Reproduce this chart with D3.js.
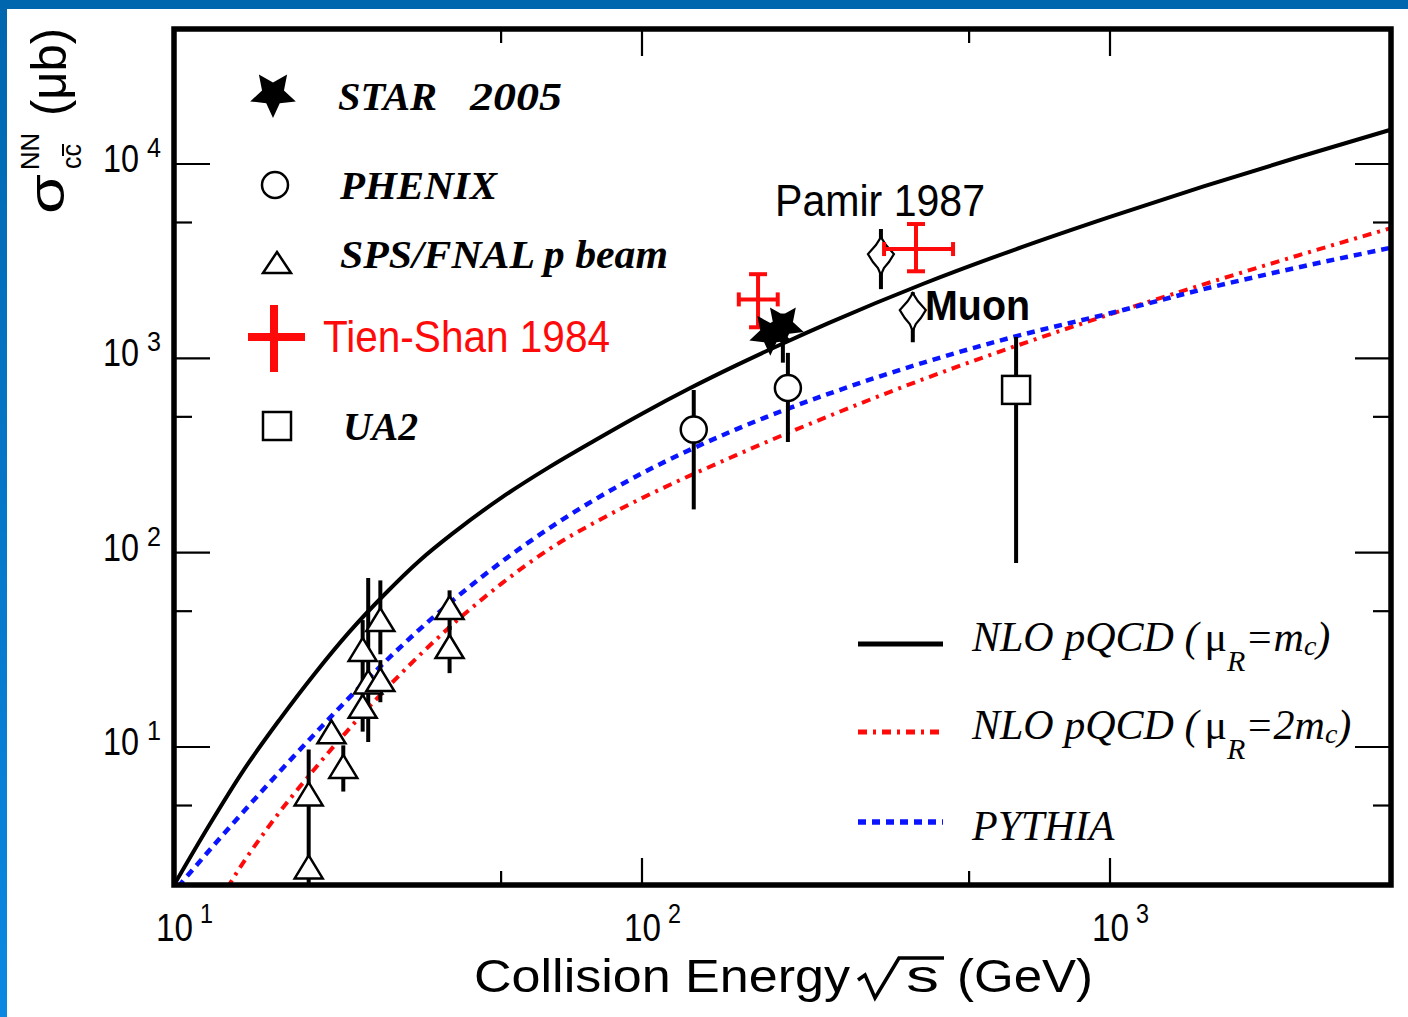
<!DOCTYPE html>
<html>
<head>
<meta charset="utf-8">
<script src="https://cdn.jsdelivr.net/npm/d3@7"></script>
<style>
  html, body { margin: 0; padding: 0; background: #fff; }
  svg { display: block; }
</style>
</head>
<body>
<svg id="chart" width="1408" height="1017"></svg>
<script>
// Charm pair production cross section per NN collision vs collision energy

// ---- axis ticks ----
const xMajorTicks = [10, 100, 1000];
const xMinorTicks = [50, 500];
const xTickExponents = ["1", "2", "3"];
const yMajorTicks = [10, 100, 1000, 10000];
const yMinorTicks = [5, 50, 500, 5000];
const yTickExponents = ["1", "2", "3", "4"];

// ---- theory curves: [sqrt(s) in GeV, sigma in microbarn] ----
const nloMcCurve = [
  [10, 1.95], [11.9, 3.97], [14.1, 7.63], [16.8, 13.8], [20.0, 23.9], [23.7, 39.1],
  [28.2, 61.1], [33.5, 91.2], [39.8, 128], [50.1, 192], [63.1, 274], [79.4, 379],
  [100, 519], [125.9, 697], [158.5, 917], [199.5, 1189], [251, 1522], [398, 2413],
  [631, 3652], [1000, 5346], [1585, 7664], [2512, 10800], [3985, 15020]
];
const nlo2McCurve = [
  [13.0, 1.88], [13.2, 2.0], [15.85, 3.83], [19.95, 7.69], [25.1, 14.5], [31.6, 25.9],
  [39.8, 43.7], [50.1, 69.3], [63.1, 103.6], [79.4, 143.4], [100, 190.8],
  [158.5, 316.6], [251, 505], [398, 779], [631, 1160], [1000, 1685],
  [1585, 2402], [2512, 3373], [3985, 4683]
];
const pythiaCurve = [
  [10.2, 1.91], [12.6, 3.44], [15.85, 6.39], [19.95, 11.63], [25.1, 20.7], [31.6, 35.5],
  [39.8, 57.9], [50.1, 89.7], [63.1, 132.7], [79.4, 188], [100, 256], [158.5, 430],
  [251, 658], [398, 948], [631, 1300], [1000, 1705], [1585, 2270], [2512, 2930],
  [3985, 3707]
];

// ---- measurements: s = sqrt(s) GeV, v = sigma, lo/hi = vertical error range ----
const starPoints = [
  { s: 188, v: 1340 },
  { s: 200, v: 1480, lo: 950, hi: 1700 }
];
const phenixPoints = [
  { s: 129, v: 430, lo: 167, hi: 687 },
  { s: 205, v: 704, lo: 371, hi: 1067 }
];
const spsFnalPoints = [
  { s: 19.4, v: 5.7, lo: 1.5, hi: 9.7 },
  { s: 19.4, v: 2.4 },
  { s: 21.7, v: 11.9, lo: 10.5, hi: 13.5 },
  { s: 23.0, v: 7.9, lo: 5.9, hi: 10.2 },
  { s: 25.3, v: 31.6, lo: 20, hi: 45 },
  { s: 25.3, v: 16.1, lo: 12, hi: 20 },
  { s: 26.0, v: 21.5, lo: 10.6, hi: 74 },
  { s: 27.6, v: 45, lo: 30, hi: 72 },
  { s: 27.6, v: 22.1, lo: 17, hi: 28 },
  { s: 38.8, v: 51.9, lo: 40, hi: 64 },
  { s: 38.8, v: 32.7, lo: 24, hi: 42 }
];
const ua2Points = [
  { s: 630, v: 688, lo: 88.5, hi: 1288 }
];
const tienShanPoints = [
  { s: 177, v: 2010, lo: 1445, hi: 2710, sLo: 161, sHi: 195 },
  { s: 385, v: 3650, lo: 2805, hi: 4910, sLo: 329, sHi: 462 }
];
const pamirPoints = [
  { s: 324, v: 3360, lo: 2270, hi: 4630 },
  { s: 379, v: 1730, lo: 1210, hi: 2190 }
];

// ---- legend texts ----
const markerLegendLabels = ["STAR", "PHENIX", "SPS/FNAL p beam", "Tien-Shan 1984", "UA2"];
const curveLegendLabels = ["NLO pQCD (", "PYTHIA"];

// ---------------------------------------------------------------
const svg = d3.select("#chart");
const frame = { left: 174, right: 1391, top: 29, bottom: 885 };
const sans = "'Liberation Sans', Arial, Helvetica, sans-serif";
const serif = "'Liberation Serif', 'Times New Roman', Times, serif";

const x = d3.scaleLog().domain([10, 3985]).range([frame.left, frame.right]);
const y = d3.scaleLog().domain([1.95, 49500]).range([frame.bottom, frame.top]);

// page background and blue slide border
svg.append("rect").attr("width", 1408).attr("height", 1017).attr("fill", "#fff");
const defs = svg.append("defs");
const grad = defs.append("linearGradient").attr("id", "edgeGrad")
  .attr("x1", 0).attr("y1", 0).attr("x2", 0).attr("y2", 1);
grad.append("stop").attr("offset", "0%").attr("stop-color", "#0066ae");
grad.append("stop").attr("offset", "100%").attr("stop-color", "#0a88e2");
svg.append("rect").attr("x", 0).attr("y", 0).attr("width", 7).attr("height", 1017).attr("fill", "url(#edgeGrad)");
svg.append("rect").attr("x", 0).attr("y", 0).attr("width", 1408).attr("height", 9).attr("fill", "#0066ae");

defs.append("clipPath").attr("id", "plotClip").append("rect")
  .attr("x", frame.left).attr("y", frame.top)
  .attr("width", frame.right - frame.left).attr("height", frame.bottom - frame.top);

// ---- ticks (inside, on all four sides) ----
const ticks = svg.append("g").attr("stroke", "#000").attr("stroke-width", 2.2);
const xTicks = xMajorTicks.filter(d => d > 10).map(d => ({ v: d, len: 27 }))
  .concat(xMinorTicks.map(d => ({ v: d, len: 14 })));
xTicks.forEach(t => {
  ticks.append("line").attr("x1", x(t.v)).attr("x2", x(t.v))
    .attr("y1", frame.bottom).attr("y2", frame.bottom - t.len);
  ticks.append("line").attr("x1", x(t.v)).attr("x2", x(t.v))
    .attr("y1", frame.top).attr("y2", frame.top + t.len);
});
const yTicks = yMajorTicks.map(d => ({ v: d, len: 36 }))
  .concat(yMinorTicks.map(d => ({ v: d, len: 18 })));
yTicks.forEach(t => {
  ticks.append("line").attr("y1", y(t.v)).attr("y2", y(t.v))
    .attr("x1", frame.left).attr("x2", frame.left + t.len);
  ticks.append("line").attr("y1", y(t.v)).attr("y2", y(t.v))
    .attr("x1", frame.right).attr("x2", frame.right - t.len);
});

// ---- tick labels: "10" with a raised exponent ----
const labels = svg.append("g").attr("font-family", sans).attr("fill", "#000");
xMajorTicks.forEach((d, i) => {
  const t = labels.append("text").attr("x", x(d) - 18).attr("y", 941);
  t.append("tspan").attr("font-size", 38).attr("textLength", 37)
    .attr("lengthAdjust", "spacingAndGlyphs").text("10");
  t.append("tspan").attr("x", x(d) + 26).attr("dy", -18).attr("font-size", 27)
    .attr("textLength", 13).attr("lengthAdjust", "spacingAndGlyphs").text(xTickExponents[i]);
});
yMajorTicks.forEach((d, i) => {
  const t = labels.append("text").attr("x", 103).attr("y", y(d) + 8);
  t.append("tspan").attr("font-size", 38).attr("textLength", 36)
    .attr("lengthAdjust", "spacingAndGlyphs").text("10");
  t.append("tspan").attr("x", 147).attr("dy", -15).attr("font-size", 27)
    .attr("textLength", 14).attr("lengthAdjust", "spacingAndGlyphs").text(yTickExponents[i]);
});

// ---- axis titles ----
const xTitle = labels.append("text").attr("y", 992).attr("font-size", 47);
xTitle.append("tspan").attr("x", 474).attr("textLength", 376)
  .attr("lengthAdjust", "spacingAndGlyphs").text("Collision Energy");
xTitle.append("tspan").attr("x", 906).attr("textLength", 33)
  .attr("lengthAdjust", "spacingAndGlyphs").text("s");
xTitle.append("tspan").attr("x", 957).attr("textLength", 136)
  .attr("lengthAdjust", "spacingAndGlyphs").text("(GeV)");
svg.append("path").attr("d", "M858,980 L865,975 L875,998 L899,958 L944,958")
  .attr("fill", "none").attr("stroke", "#000").attr("stroke-width", 3.5).attr("stroke-linejoin", "miter");

const yTitle = svg.append("g").attr("transform", "translate(64,0) rotate(-90)")
  .attr("font-family", sans).attr("fill", "#000");
const yt = yTitle.append("text").attr("y", 0);
yt.append("tspan").attr("x", -214).attr("font-size", 50)
  .attr("textLength", 40).attr("lengthAdjust", "spacingAndGlyphs").text("σ");
yt.append("tspan").attr("x", -170).attr("dy", -25).attr("font-size", 26)
  .attr("textLength", 37).attr("lengthAdjust", "spacingAndGlyphs").text("NN");
yt.append("tspan").attr("x", -169).attr("dy", 42).attr("font-size", 27)
  .attr("textLength", 25).attr("lengthAdjust", "spacingAndGlyphs").text("cc");
yt.append("tspan").attr("x", -116).attr("dy", -15).attr("font-size", 50)
  .attr("textLength", 88).attr("lengthAdjust", "spacingAndGlyphs").text("(μb)");
yTitle.append("line").attr("x1", -156).attr("x2", -144).attr("y1", -1).attr("y2", -1)
  .attr("stroke", "#000").attr("stroke-width", 2);

// ---- theory curves ----
const plot = svg.append("g").attr("clip-path", "url(#plotClip)");
const line = d3.line().x(d => x(d[0])).y(d => y(d[1])).curve(d3.curveMonotoneX);
const curveStyles = [
  { data: nloMcCurve, color: "#000", width: 4, dash: null },
  { data: nlo2McCurve, color: "#ff0a0a", width: 4, dash: "9,6,3,6" },
  { data: pythiaCurve, color: "#0a14ff", width: 4.5, dash: "8,6" }
];
curveStyles.forEach(c => {
  plot.append("path").attr("d", line(c.data)).attr("fill", "none")
    .attr("stroke", c.color).attr("stroke-width", c.width)
    .attr("stroke-dasharray", c.dash);
});

// ---- marker shapes ----
function starPath(R) {
  const r = R * 0.48, pts = [];
  for (let k = 0; k < 10; k++) {
    const a = Math.PI + k * Math.PI / 5;   // first point straight down
    const rad = k % 2 === 0 ? R : r;
    pts.push([rad * Math.sin(a), -rad * Math.cos(a)]);
  }
  return "M" + pts.map(p => p.join(",")).join("L") + "Z";
}
const triPath = "M0,-12 L14,11 L-14,11 Z";
const diamondPath = "M0,-19 L5,-11 L13,-2 L8,6 L3,12 L0,19 L-3,12 L-8,6 L-13,-2 L-5,-11 Z";

function errorBars(g, pts, color, w) {
  pts.filter(p => p.lo !== undefined).forEach(p => {
    g.append("line").attr("x1", x(p.s)).attr("x2", x(p.s))
      .attr("y1", y(p.lo)).attr("y2", y(p.hi))
      .attr("stroke", color).attr("stroke-width", w);
  });
}

const marks = svg.append("g").attr("clip-path", "url(#plotClip)");

// SPS/FNAL p beam
errorBars(marks, spsFnalPoints, "#000", 4);
marks.selectAll(".sps").data(spsFnalPoints).join("path")
  .attr("d", triPath).attr("transform", d => `translate(${x(d.s)},${y(d.v)})`)
  .attr("fill", "#fff").attr("stroke", "#000").attr("stroke-width", 2.5);

// PHENIX
errorBars(marks, phenixPoints, "#000", 4);
marks.selectAll(".phx").data(phenixPoints).join("circle")
  .attr("cx", d => x(d.s)).attr("cy", d => y(d.v)).attr("r", 13)
  .attr("fill", "#fff").attr("stroke", "#000").attr("stroke-width", 2.5);

// UA2
errorBars(marks, ua2Points, "#000", 4);
marks.selectAll(".ua2").data(ua2Points).join("rect")
  .attr("x", d => x(d.s) - 14).attr("y", d => y(d.v) - 14).attr("width", 28).attr("height", 28)
  .attr("fill", "#fff").attr("stroke", "#000").attr("stroke-width", 2.5);

// Pamir 1987 (emulsion and muon)
errorBars(marks, pamirPoints, "#000", 4);
marks.selectAll(".pamir").data(pamirPoints).join("path")
  .attr("d", diamondPath).attr("transform", d => `translate(${x(d.s)},${y(d.v)})`)
  .attr("fill", "#fff").attr("stroke", "#000").attr("stroke-width", 2.2);

// Tien-Shan 1984
tienShanPoints.forEach(p => {
  const g = marks.append("g").attr("stroke", "#ff0a0a").attr("stroke-width", 4);
  const cx = x(p.s), cy = y(p.v);
  g.append("line").attr("x1", cx).attr("x2", cx).attr("y1", y(p.lo)).attr("y2", y(p.hi));
  g.append("line").attr("x1", x(p.sLo)).attr("x2", x(p.sHi)).attr("y1", cy).attr("y2", cy);
  [p.lo, p.hi].forEach(v => g.append("line").attr("x1", cx - 9).attr("x2", cx + 9)
    .attr("y1", y(v)).attr("y2", y(v)));
  [p.sLo, p.sHi].forEach(s => g.append("line").attr("x1", x(s)).attr("x2", x(s))
    .attr("y1", cy - 7).attr("y2", cy + 7));
});

// STAR 2005
errorBars(marks, starPoints, "#000", 4);
marks.selectAll(".star").data(starPoints).join("path")
  .attr("d", starPath(22)).attr("transform", d => `translate(${x(d.s)},${y(d.v)})`)
  .attr("fill", "#000");

// ---- plot annotations ----
svg.append("text").attr("x", 775).attr("y", 216).attr("font-family", sans).attr("font-size", 44)
  .attr("textLength", 210).attr("lengthAdjust", "spacingAndGlyphs").text("Pamir 1987");
svg.append("text").attr("x", 925).attr("y", 320).attr("font-family", sans).attr("font-size", 42)
  .attr("font-weight", "bold").attr("textLength", 105).attr("lengthAdjust", "spacingAndGlyphs").text("Muon");

// ---- marker legend (top left) ----
const leg = svg.append("g");
leg.append("path").attr("d", starPath(24)).attr("transform", "translate(273,94)").attr("fill", "#000");
leg.append("circle").attr("cx", 275).attr("cy", 185).attr("r", 13)
  .attr("fill", "#fff").attr("stroke", "#000").attr("stroke-width", 2.5);
leg.append("path").attr("d", "M0,-11 L14,10 L-14,10 Z").attr("transform", "translate(277,263)")
  .attr("fill", "#fff").attr("stroke", "#000").attr("stroke-width", 2.5);
leg.append("line").attr("x1", 248).attr("x2", 305).attr("y1", 337).attr("y2", 337)
  .attr("stroke", "#ff0a0a").attr("stroke-width", 8);
leg.append("line").attr("x1", 274).attr("x2", 274).attr("y1", 305).attr("y2", 372)
  .attr("stroke", "#ff0a0a").attr("stroke-width", 8);
leg.append("rect").attr("x", 263).attr("y", 412).attr("width", 28).attr("height", 28)
  .attr("fill", "#fff").attr("stroke", "#000").attr("stroke-width", 2.5);

const serifBI = t => t.attr("font-family", serif).attr("font-weight", "bold")
  .attr("font-style", "italic").attr("font-size", 41).attr("lengthAdjust", "spacingAndGlyphs");
serifBI(leg.append("text").attr("x", 338).attr("y", 110).attr("textLength", 99)).text(markerLegendLabels[0]);
serifBI(leg.append("text").attr("x", 470).attr("y", 110).attr("textLength", 92)).text("2005");
serifBI(leg.append("text").attr("x", 340).attr("y", 199).attr("textLength", 157)).text(markerLegendLabels[1]);
serifBI(leg.append("text").attr("x", 340).attr("y", 268).attr("textLength", 328)).text(markerLegendLabels[2]);
leg.append("text").attr("x", 323).attr("y", 352).attr("font-family", sans).attr("font-size", 44)
  .attr("fill", "#ff0a0a").attr("textLength", 287).attr("lengthAdjust", "spacingAndGlyphs")
  .text(markerLegendLabels[3]);
serifBI(leg.append("text").attr("x", 343).attr("y", 440).attr("textLength", 75)).text(markerLegendLabels[4]);

// ---- curve legend (bottom right) ----
const cleg = svg.append("g");
const legendRows = [
  { yl: 644, yt: 651, style: curveStyles[0], mu: "=m" },
  { yl: 732, yt: 739, style: curveStyles[1], mu: "=2m" },
  { yl: 822, yt: 840, style: curveStyles[2] }
];
legendRows.forEach(r => {
  cleg.append("line").attr("x1", 858).attr("x2", 943).attr("y1", r.yl).attr("y2", r.yl)
    .attr("stroke", r.style.color).attr("stroke-width", r.style.width + 1)
    .attr("stroke-dasharray", r.style.dash);
  const t = cleg.append("text").attr("x", 972).attr("y", r.yt).attr("font-family", serif)
    .attr("font-style", "italic").attr("font-size", 42).attr("fill", "#000");
  if (r.mu) {
    t.append("tspan").text(curveLegendLabels[0]);
    t.append("tspan").attr("dx", 6).attr("font-style", "normal").text("μ");
    t.append("tspan").attr("dy", 20).attr("font-size", 30).text("R");
    t.append("tspan").attr("dy", -20).text(r.mu);
    t.append("tspan").attr("dy", 4).attr("font-size", 28).text("c");
    t.append("tspan").attr("dy", -4).text(")");
  } else {
    t.text(curveLegendLabels[1]);
  }
});

// ---- frame ----
svg.append("rect").attr("x", frame.left).attr("y", frame.top)
  .attr("width", frame.right - frame.left).attr("height", frame.bottom - frame.top)
  .attr("fill", "none").attr("stroke", "#000").attr("stroke-width", 5.5);
</script>
</body>
</html>
